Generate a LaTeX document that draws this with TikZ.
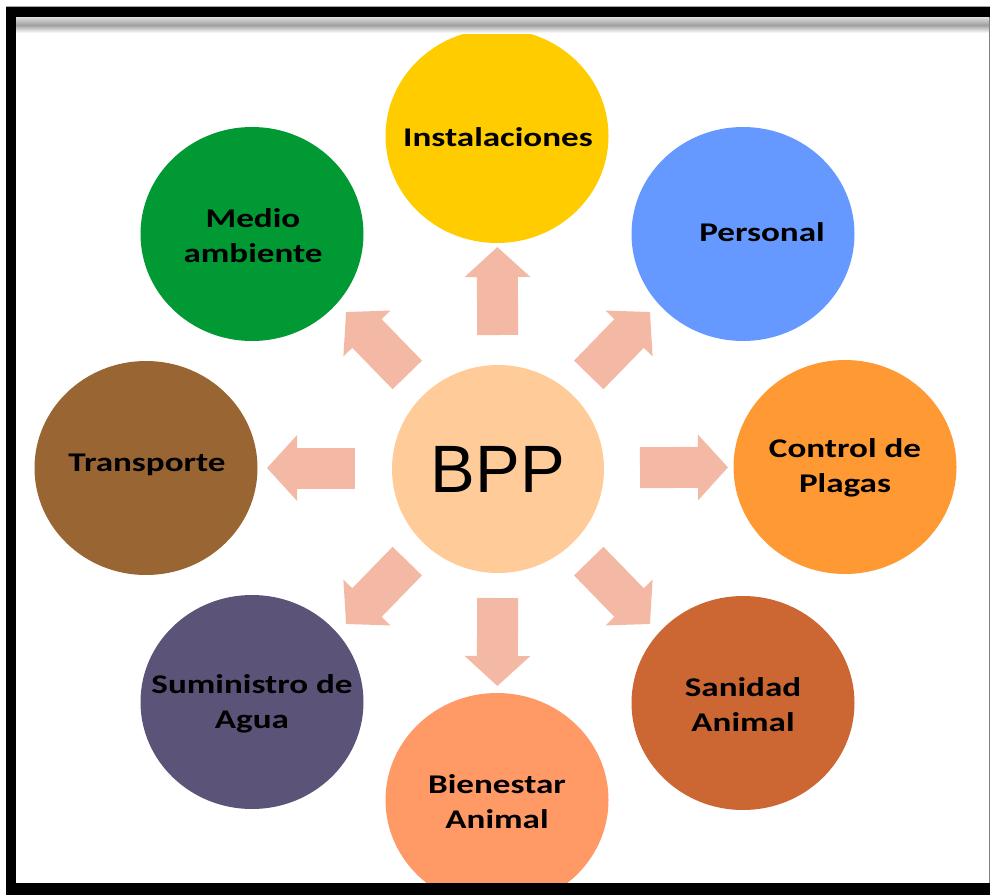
\documentclass[tikz,border=0pt]{standalone}
\usepackage{fontspec}
\usetikzlibrary{shapes.geometric,arrows.meta,calc}
\newfontfamily\lblfont{Carlito}[FakeStretch=1.3]
\newfontfamily\bppfont{Liberation Sans}
\definecolor{cinst}{HTML}{FFCC00}
\definecolor{cpers}{HTML}{6699FF}
\definecolor{cctrl}{HTML}{FF9933}
\definecolor{csani}{HTML}{CC6633}
\definecolor{cbien}{HTML}{FF9966}
\definecolor{csumi}{HTML}{5C5478}
\definecolor{ctran}{HTML}{996633}
\definecolor{cmedi}{HTML}{009933}
\definecolor{cbpp}{HTML}{FFCC99}
\definecolor{carrow}{HTML}{F4B9A5}
\tikzset{
  circ/.style={ellipse, minimum width=223pt, minimum height=214pt, inner sep=0pt, draw=none},
  lbl/.style={font=\lblfont\bfseries\fontsize{27}{35}\selectfont, align=center, text=black, inner sep=0pt},
  blockarrow/.style={draw=carrow, line width=41pt, line cap=butt,
    -{Triangle[width=64pt,length=30pt]}},
}
\begin{document}
\begin{tikzpicture}[x=1pt,y=-1pt]
\useasboundingbox (0,0) rectangle (990,894);
\clip (0,0) rectangle (990,894);
\fill[white] (-5,-5) rectangle (995,900);
% circles
\node[circ, fill=cinst] (inst) at (497,136) {};
\node[circ, fill=cpers] (pers) at (743,234) {};
\node[circ, fill=cctrl] (ctrl) at (845,467) {};
\node[circ, fill=csani] (sani) at (743,703) {};
\begin{scope}
\clip (0,0) rectangle (990,883);
\node[circ, fill=cbien] (bien) at (497,800) {};
\end{scope}
\node[circ, fill=csumi] (sumi) at (252,702) {};
\node[circ, fill=ctran] (tran) at (146,468) {};
\node[circ, fill=cmedi] (medi) at (252,234) {};
\node[ellipse, minimum width=212pt, minimum height=208pt, inner sep=0pt, fill=cbpp] (bpp) at (498,469) {};
% labels
\node[lbl] (instt) at (498,137) {Instalaciones};
\node[lbl] (perst) at (762,232) {Personal};
\node[lbl] (ctrlt) at (845,468) {Control de\\Plagas};
\node[lbl] (sanit) at (743,705) {Sanidad\\Animal};
\node[lbl] (bient) at (497,802) {Bienestar\\Animal};
\node[lbl] (sumit) at (252,704) {Suministro de\\Agua};
\node[lbl] (trant) at (147,465) {Transporte};
\node[lbl] (medit) at (253,236) {Medio\\ambiente};
\node[inner sep=0pt, font=\bppfont\fontsize{67}{67}\selectfont] (bppt) at (498,469) {BPP};
% arrows
\coordinate (c) at (498,468);
\coordinate (nw) at (346,312);
\coordinate (ne) at (650,312);
\coordinate (se) at (650,624);
\coordinate (sw) at (346,624);
\draw[blockarrow] ($(c)!133pt!(inst)$) -- ($(c)!221pt!(inst)$);
\draw[blockarrow] ($(c)!142pt!(ctrl)$) -- ($(c)!230pt!(ctrl)$);
\draw[blockarrow] ($(c)!143pt!(tran)$) -- ($(c)!231pt!(tran)$);
\draw[blockarrow] ($(c)!130pt!(bien)$) -- ($(c)!218pt!(bien)$);
\draw[blockarrow] ($(c)!130pt!(ne)$) -- (ne);
\draw[blockarrow] ($(c)!130pt!(nw)$) -- (nw);
\draw[blockarrow] ($(c)!130pt!(se)$) -- (se);
\draw[blockarrow] ($(c)!130pt!(sw)$) -- (sw);
% frame
\shade[top color=gray!25, bottom color=white, middle color=gray!75] (16,17) rectangle (990,33);
\fill[black] (6,7) rectangle (990,17);
\fill[black] (6,7) rectangle (16,900);
\fill[black] (6,883) rectangle (995,900);
\draw[gray, line width=1pt] (989,17) -- (989,883);
\draw[gray!70, line width=1pt] (6,6.5) -- (990,6.5);
\end{tikzpicture}
\end{document}
